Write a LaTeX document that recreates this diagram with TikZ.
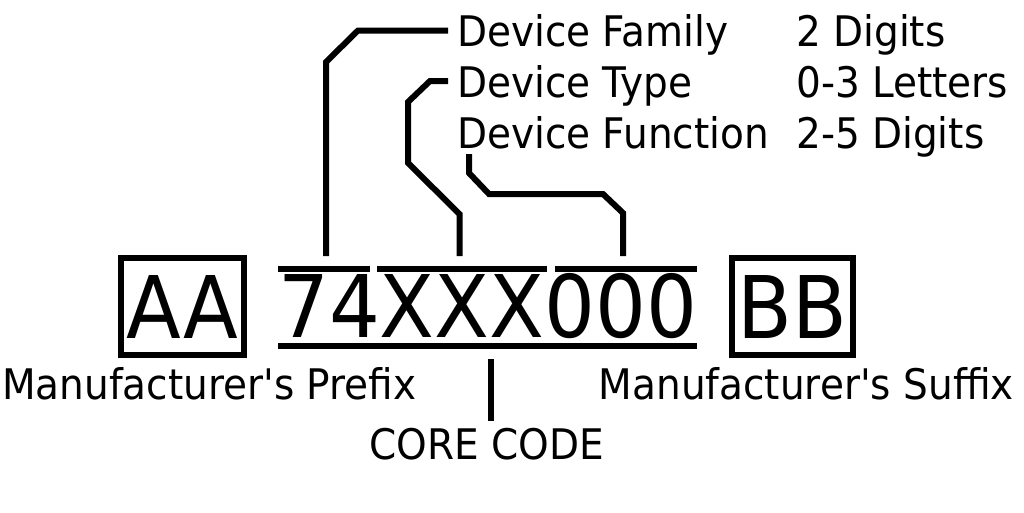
\documentclass[tikz,border=0pt]{standalone}
\usepackage{graphicx}
\usepackage{fontspec}
\setmainfont{DejaVu Sans}[Ligatures=TeXOff]
\usetikzlibrary{positioning}
\newcommand{\tall}[1]{\scalebox{1}[1.08]{#1}}

\begin{document}
\begin{tikzpicture}[x=1pt,y=-1pt] %% part number layout
	\tikzstyle{lbl}=[inner sep=0pt,font=\fontsize{39}{46}\selectfont];
	\tikzstyle{big}=[inner sep=0pt,font=\fontsize{80}{96}\selectfont];
	\tikzstyle{boxed}=[big,draw,line width=6pt,minimum height=97pt];
	\tikzstyle{lead}=[line width=6pt];
	\useasboundingbox (0,0) rectangle (1024,512);
	% the part number
	\node[big,anchor=base west] (code) at (278,337) {\tall{74XXX000}};
	\node[boxed,minimum width=123pt] (pre) at (182.5,306.5) {\tall{AA}};
	\node[boxed,minimum width=121pt] (suf) at (792.5,306.5) {\tall{BB}};
	% field labels
	\node[lbl,anchor=base west] (fam) at (457,46) {\tall{Device Family}};
	\node[lbl,anchor=base west] (typ) at (457,97) {\tall{Device Type}};
	\node[lbl,anchor=base west] (fun) at (457,148) {\tall{Device Function}};
	\node[lbl,anchor=base west] (famlen) at (796,46) {\tall{2 Digits}};
	\node[lbl,anchor=base west] (typlen) at (796,97) {\tall{0-3 Letters}};
	\node[lbl,anchor=base west] (funlen) at (796,148) {\tall{2-5 Digits}};
	\node[lbl,anchor=base west] (prelbl) at (2,399) {\tall{Manufacturer's Prefix}};
	\node[lbl,anchor=base east] (suflbl) at (1014,399) {\tall{Manufacturer's Suffix}};
	\node[lbl,anchor=base] (core) at (487,459) {\tall{CORE CODE}};
	% bars over and under the core code
	\draw[lead] (278,269) -- (370,269);
	\draw[lead] (377,269) -- (547,269);
	\draw[lead] (555,269) -- (697,269);
	\draw[lead] (278,346) -- (697,346);
	% leaders
	\coordinate (famtip) at (448,30.5);
	\coordinate (typtip) at (448,81);
	\coordinate (funtip) at (469,154);
	\coordinate (famfoot) at (326,256);
	\coordinate (typfoot) at (459.5,256);
	\coordinate (funfoot) at (623,256);
	\coordinate (coretop) at (491,359);
	\coordinate (corefoot) at (491,421);
	\draw[lead] (famtip) -- (358,30.5) -- (326,62) -- (famfoot);
	\draw[lead] (typtip) -- (430,81) -- (408,102) -- (408,163) -- (459.5,214) -- (typfoot);
	\draw[lead] (funtip) -- (469,173) -- (489,194) -- (603,194) -- (623,213) -- (funfoot);
	\draw[lead] (coretop) -- (corefoot);
\end{tikzpicture}
\end{document}
